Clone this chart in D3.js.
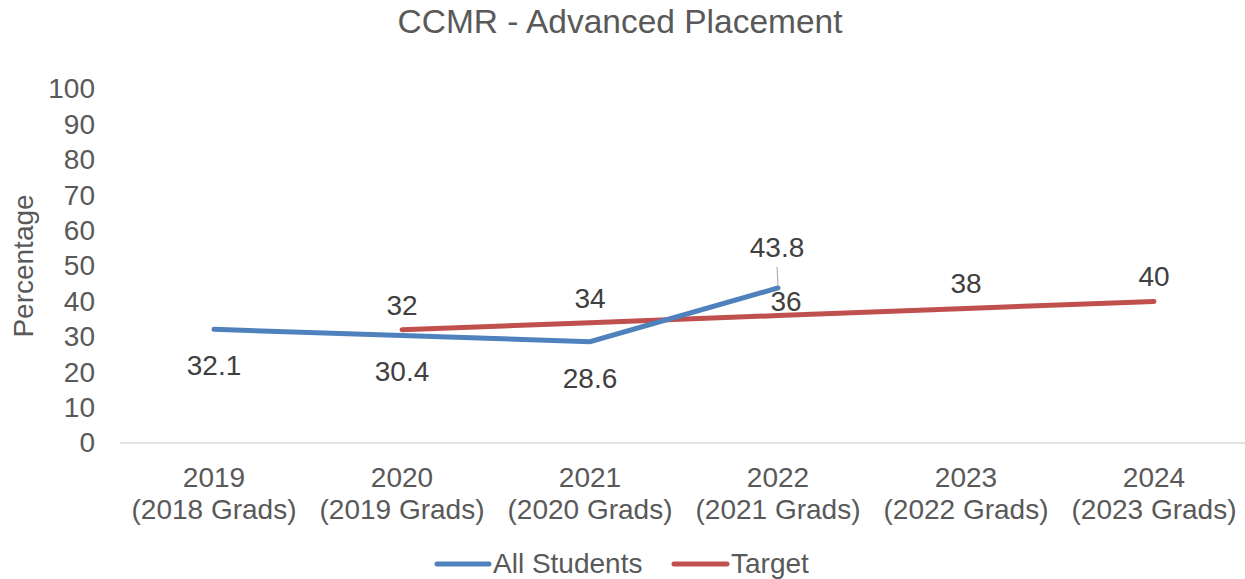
<!DOCTYPE html>
<html>
<head>
<meta charset="utf-8">
<script src="https://cdn.jsdelivr.net/npm/d3@7"></script>
<style>
  body { margin: 0; background: #fff; }
  svg text { font-family: "Liberation Sans", Arial, sans-serif; }
</style>
</head>
<body>
<svg id="chart" width="1245" height="579"></svg>
<script>
var years = ['2019', '2020', '2021', '2022', '2023', '2024'];
var grads = ['(2018 Grads)', '(2019 Grads)', '(2020 Grads)', '(2021 Grads)', '(2022 Grads)', '(2023 Grads)'];
var allStudents = [32.1, 30.4, 28.6, 43.8, null, null];
var target = [null, 32, 34, 36, 38, 40];
var yTicks = [0, 10, 20, 30, 40, 50, 60, 70, 80, 90, 100];

(function () {
    var svg = d3.select('#chart');
    var left = 120, right = 1248, top = 89, bottom = 443;
    var fs = 28;

    var x = d3.scaleBand().domain(years).range([left, right]);
    var y = d3.scaleLinear().domain([0, 100]).range([bottom, top]);
    var cx = function (i) { return x(years[i]) + x.bandwidth() / 2; };

    // title
    svg.append('text').attr('x', 620).attr('y', 33).attr('text-anchor', 'middle')
        .attr('font-size', 33.5).attr('fill', '#595959').text('CCMR - Advanced Placement');

    // y axis labels
    var yAxis = d3.axisLeft(y).tickValues(yTicks).tickSize(0).tickPadding(0);
    var ga = svg.append('g').attr('transform', 'translate(95,0)').call(yAxis);
    ga.select('.domain').remove();
    ga.selectAll('text').attr('font-size', fs).attr('fill', '#595959')
        .style('font-family', '"Liberation Sans", Arial, sans-serif');

    svg.append('text').attr('transform', 'translate(33,' + (top + bottom) / 2 + ') rotate(-90)')
        .attr('text-anchor', 'middle').attr('font-size', fs).attr('fill', '#595959').text('Percentage');

    // x axis line
    svg.append('line').attr('x1', left).attr('x2', 1245).attr('y1', y(0)).attr('y2', y(0))
        .attr('stroke', '#d9d9d9').attr('stroke-width', 1.5);

    var cat = svg.selectAll('.cat').data(years).enter().append('g').attr('class', 'cat');
    cat.append('text').attr('x', (d, i) => cx(i)).attr('y', 487).attr('text-anchor', 'middle')
        .attr('font-size', fs).attr('fill', '#595959').text(d => d);
    cat.append('text').attr('x', (d, i) => cx(i)).attr('y', 519).attr('text-anchor', 'middle')
        .attr('font-size', fs).attr('fill', '#595959').text((d, i) => grads[i]);

    var line = d3.line().defined(d => d.v != null).x(d => cx(d.i)).y(d => y(d.v));
    var toPts = arr => arr.map((v, i) => ({ i: i, v: v }));

    svg.append('path').datum(toPts(target)).attr('d', line).attr('fill', 'none')
        .attr('stroke', '#c0504d').attr('stroke-width', 5).attr('stroke-linecap', 'round');
    svg.append('path').datum(toPts(allStudents)).attr('d', line).attr('fill', 'none')
        .attr('stroke', '#4f81bd').attr('stroke-width', 5).attr('stroke-linecap', 'round');

    // data labels
    var lab = svg.append('g').attr('font-size', fs).attr('fill', '#404040').attr('text-anchor', 'middle');
    toPts(allStudents).filter(d => d.v != null).forEach(function (d) {
        if (d.i === 3) {
            lab.append('text').attr('x', cx(d.i) - 1).attr('y', y(d.v) - 31).text(d.v);
            svg.append('line').attr('x1', cx(d.i) - 1).attr('x2', cx(d.i))
                .attr('y1', y(d.v) - 21).attr('y2', y(d.v) - 2)
                .attr('stroke', '#a6a6a6').attr('stroke-width', 1);
        } else {
            lab.append('text').attr('x', cx(d.i)).attr('y', y(d.v) + 46).text(d.v);
        }
    });
    toPts(target).filter(d => d.v != null).forEach(function (d) {
        var off = d.i === 3 ? -5 : -15;
        lab.append('text').attr('x', cx(d.i) + (d.i === 3 ? 8 : 0)).attr('y', y(d.v) + off).text(d.v);
    });

    // legend
    var lg = svg.append('g');
    lg.append('line').attr('x1', 437).attr('x2', 489).attr('y1', 564).attr('y2', 564)
        .attr('stroke', '#4f81bd').attr('stroke-width', 5).attr('stroke-linecap', 'round');
    lg.append('text').attr('x', 493).attr('y', 573).attr('font-size', fs).attr('fill', '#595959').text('All Students');
    lg.append('line').attr('x1', 674).attr('x2', 727).attr('y1', 564).attr('y2', 564)
        .attr('stroke', '#c0504d').attr('stroke-width', 5).attr('stroke-linecap', 'round');
    lg.append('text').attr('x', 731).attr('y', 573).attr('font-size', fs).attr('fill', '#595959').text('Target');
})();
</script>
</body>
</html>
